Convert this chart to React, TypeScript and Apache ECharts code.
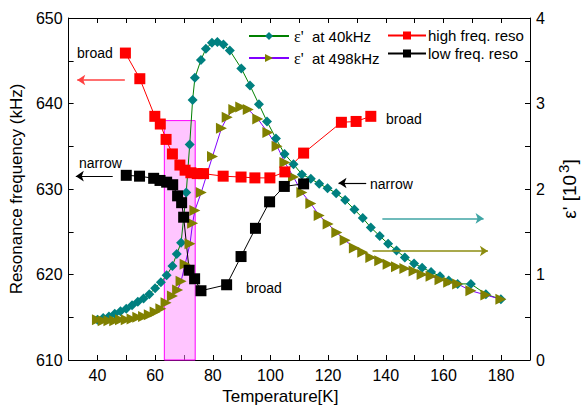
import React, { useEffect, useRef } from "react";
import * as echarts from "echarts";

// ε' at 40kHz (right axis, 10^3)
const tTeal = [40, 42, 44, 46, 48, 50, 52, 54, 56, 58, 60, 62, 64, 66, 67.5, 69, 70.8, 72, 73, 73.8, 75.9, 77.6, 79.7, 81.6, 83.7, 85.9, 89.9, 92.9, 96, 98.8, 101.9, 104.9, 108, 110.9, 114, 116.9, 119.8, 122.8, 125.9, 129.1, 132, 134.8, 137.9, 140.8, 143.7, 146.6, 149.8, 152.6, 155.7, 158.8, 161.8, 164.9, 169.5, 174.7, 179.9];
const eTeal = [0.47, 0.49, 0.51, 0.54, 0.57, 0.6, 0.64, 0.68, 0.72, 0.77, 0.84, 0.91, 0.99, 1.1, 1.24, 1.37, 1.96, 2.52, 3.04, 3.3, 3.51, 3.64, 3.71, 3.72, 3.69, 3.62, 3.41, 3.21, 2.99, 2.79, 2.59, 2.41, 2.29, 2.17, 2.12, 2.06, 2.01, 1.95, 1.87, 1.76, 1.66, 1.55, 1.45, 1.36, 1.28, 1.2, 1.13, 1.08, 1.03, 0.98, 0.93, 0.89, 0.89, 0.77, 0.71];

// ε' at 498kHz
const tOlive = [40, 42, 44, 46, 48, 50, 52, 54, 56, 58, 60, 62, 63.8, 66, 67.8, 69, 70.4, 72.1, 73, 73.8, 76, 79.9, 83, 85, 87.3, 89.7, 92.3, 95.6, 99.1, 102.3, 105, 108, 110.9, 114, 116.9, 120, 123, 125.9, 129.1, 132, 134.8, 137.9, 140.8, 143.7, 146.6, 149.8, 152.6, 155.7, 158.8, 161.8, 164.9, 169.5, 174.7, 179.9];
const eOlive = [0.47, 0.46, 0.46, 0.46, 0.47, 0.47, 0.48, 0.5, 0.51, 0.53, 0.56, 0.6, 0.67, 0.75, 0.82, 0.92, 1.12, 1.36, 1.6, 1.75, 1.96, 2.38, 2.71, 2.84, 2.93, 2.96, 2.93, 2.82, 2.66, 2.5, 2.31, 2.14, 1.96, 1.83, 1.69, 1.59, 1.49, 1.4, 1.31, 1.26, 1.2, 1.16, 1.12, 1.09, 1.07, 1.04, 1.0, 0.98, 0.94, 0.91, 0.89, 0.81, 0.76, 0.71];

// high freq. reso (left axis, kHz)
const tHigh = [49.7, 54.7, 59.9, 61.8, 63.8, 66, 68.6, 70.4, 72.4, 74.6, 76.8, 83.6, 89.8, 94.6, 99.8, 105, 111.5, 124.6, 129.7, 134.8];
const fHigh = [645.9, 642.9, 638.5, 637.6, 635.8, 634.1, 632.8, 632.2, 631.9, 631.8, 631.8, 631.5, 631.4, 631.3, 631.3, 632.0, 634.2, 637.8, 637.9, 638.5];

// low freq. reso
const tLow = [50, 54.6, 59.5, 61.7, 64, 66.1, 67.8, 69.2, 69.9, 71.8, 73.7, 75.9, 84.8, 89.8, 94.8, 99.7, 104.8, 111.5];
const fLow = [631.6, 631.5, 631.25, 631.0, 630.8, 630.5, 629.2, 628.4, 626.7, 620.5, 619.5, 618.1, 618.8, 622.1, 625.4, 628.5, 630.3, 630.6];

const xTicks = { min: 30, max: 190, step: 10, labelEvery: 20 };
const fTicks = { min: 610, max: 650, step: 5, labelEvery: 10 };
const eTicks = { min: 0, max: 4, step: 0.5, labelEvery: 1 };

const zip = (a: number[], b: number[]) => a.map((v, i) => [v, b[i]]);

const FONT = "Liberation Sans, Arial, sans-serif";

export default function App() {
  const ref = useRef<HTMLDivElement>(null);
  useEffect(() => {
    const chart = echarts.init(ref.current!, null, { renderer: "svg" });
    const axisCommon = {
      axisLine: { show: true, lineStyle: { color: "#000", width: 1 } },
      axisTick: { show: true, inside: true, length: 5, lineStyle: { color: "#000" } },
      splitLine: { show: false },
    };
    const labelFmt = (every: number) => (v: number) =>
      Math.abs(v / every - Math.round(v / every)) < 1e-6 ? String(v) : "";
    const option: any = {
      animation: false,
      backgroundColor: "#fff",
      grid: { left: 68, right: 55, top: 18, bottom: 49 },
      xAxis: [
        {
          type: "value",
          min: xTicks.min,
          max: xTicks.max,
          interval: xTicks.step,
          ...axisCommon,
          axisLabel: { formatter: labelFmt(xTicks.labelEvery), fontSize: 16, color: "#000", fontFamily: FONT, margin: 7 },
          name: "Temperature[K]",
          nameLocation: "middle",
          nameGap: 28,
          nameTextStyle: { fontSize: 17, color: "#000", fontFamily: FONT, padding: [0, 38, 0, 0] },
        },
        {
          type: "value",
          position: "top",
          min: xTicks.min,
          max: xTicks.max,
          interval: xTicks.step,
          ...axisCommon,
          axisLabel: { show: false },
        },
      ],
      yAxis: [
        {
          type: "value",
          min: fTicks.min,
          max: fTicks.max,
          interval: fTicks.step,
          ...axisCommon,
          axisLabel: { formatter: labelFmt(fTicks.labelEvery), fontSize: 16, color: "#000", fontFamily: FONT, margin: 6 },
          name: "Resonance frequency (kHz)",
          nameLocation: "middle",
          nameRotate: 90,
          nameGap: 42,
          nameTextStyle: { fontSize: 17, color: "#000", fontFamily: FONT },
        },
        {
          type: "value",
          position: "right",
          min: eTicks.min,
          max: eTicks.max,
          interval: eTicks.step,
          ...axisCommon,
          axisLabel: { formatter: labelFmt(eTicks.labelEvery), fontSize: 16, color: "#000", fontFamily: FONT, margin: 6 },
          name: "{e|ε'} [10{sup|3}]",
          nameLocation: "middle",
          nameRotate: 90,
          nameGap: 26,
          nameTextStyle: {
            fontSize: 19,
            color: "#000",
            fontFamily: FONT,
            rich: {
              e: { fontSize: 19, fontFamily: FONT, color: "#000" },
              sup: { fontSize: 15, fontFamily: FONT, color: "#000", verticalAlign: "top", padding: [0, 0, 12, 2] },
            },
          },
        },
      ],
      legend: [
        {
          data: ["ε' at 40kHz", "ε' at 498kHz"],
          orient: "vertical",
          left: 243,
          top: 23,
          itemWidth: 40,
          itemHeight: 10,
          itemGap: 6,
          selectedMode: false,
          formatter: (n: string) => `{e|ε'}  ${n.slice(3)}`,
          textStyle: {
            fontSize: 15,
            color: "#000",
            fontFamily: FONT,
            rich: { e: { fontSize: 16, fontFamily: "Liberation Serif, serif", color: "#000" } },
          },
        },
        {
          data: ["high freq. reso", "low freq. reso"],
          orient: "vertical",
          left: 382,
          top: 23,
          itemWidth: 38,
          itemHeight: 10,
          itemGap: 3,
          selectedMode: false,
          textStyle: { fontSize: 15, color: "#000", fontFamily: FONT, padding: [0, 0, 0, -3] },
        },
      ],
      series: [
        {
          name: "ε' at 40kHz",
          type: "line",
          xAxisIndex: 0,
          yAxisIndex: 1,
          data: zip(tTeal, eTeal),
          symbol: "diamond",
          symbolSize: 10,
          itemStyle: { color: "#008080" },
          lineStyle: { color: "#008000", width: 1 },
          markArea: {
            silent: true,
            itemStyle: { color: "rgba(255,140,255,0.5)", borderColor: "#ff00ff", borderWidth: 1 },
            data: [[{ coord: [63.2, 2.8] }, { coord: [73.9, 0] }]],
          },
          markLine: {
            silent: true,
            symbol: ["none", "arrow"],
            symbolSize: 8,
            label: { show: false },
            lineStyle: { color: "#3fa5a5", type: "solid", width: 1.5 },
            data: [[{ coord: [138.8, 1.656] }, { coord: [173.9, 1.656] }]],
          },
        },
        {
          name: "ε' at 498kHz",
          type: "line",
          xAxisIndex: 0,
          yAxisIndex: 1,
          data: zip(tOlive, eOlive),
          symbol: "triangle",
          symbolRotate: -90,
          symbolSize: 11,
          itemStyle: { color: "#808000" },
          lineStyle: { color: "#8000ff", width: 1 },
          markLine: {
            silent: true,
            symbol: ["none", "arrow"],
            symbolSize: 8,
            label: { show: false },
            lineStyle: { color: "#8c8c10", type: "solid", width: 1.5 },
            data: [[{ coord: [135.4, 1.275] }, { coord: [175.4, 1.275] }]],
          },
        },
        {
          name: "high freq. reso",
          type: "line",
          xAxisIndex: 0,
          yAxisIndex: 0,
          data: zip(tHigh, fHigh),
          symbol: "rect",
          symbolSize: 11,
          itemStyle: { color: "#ff0000" },
          lineStyle: { color: "#ff0000", width: 1 },
          markLine: {
            silent: true,
            symbol: ["none", "arrow"],
            symbolSize: 8,
            label: { show: false },
            lineStyle: { color: "#ff4040", type: "solid", width: 1.5 },
            data: [[{ coord: [49.5, 642.75] }, { coord: [33, 642.75] }]],
          },
        },
        {
          name: "low freq. reso",
          type: "line",
          xAxisIndex: 0,
          yAxisIndex: 0,
          data: zip(tLow, fLow),
          symbol: "rect",
          symbolSize: 11,
          itemStyle: { color: "#000" },
          lineStyle: { color: "#000", width: 1 },
          markLine: {
            silent: true,
            symbol: ["none", "arrow"],
            symbolSize: 8,
            label: { show: false },
            lineStyle: { color: "#000", type: "solid", width: 1.2 },
            data: [
              [{ coord: [45.3, 631.5] }, { coord: [32.5, 631.5] }],
              [{ coord: [133.2, 630.7] }, { coord: [123.6, 630.7] }],
            ],
          },
        },
      ],
      graphic: [
        { type: "text", x: 77, y: 53, style: { text: "broad", font: `14px ${FONT}`, fill: "#000", verticalAlign: "middle" } },
        { type: "text", x: 79, y: 163, style: { text: "narrow", font: `14px ${FONT}`, fill: "#000", verticalAlign: "middle" } },
        { type: "text", x: 386, y: 119, style: { text: "broad", font: `14px ${FONT}`, fill: "#000", verticalAlign: "middle" } },
        { type: "text", x: 370, y: 184, style: { text: "narrow", font: `14px ${FONT}`, fill: "#000", verticalAlign: "middle" } },
        { type: "text", x: 246, y: 288, style: { text: "broad", font: `14px ${FONT}`, fill: "#000", verticalAlign: "middle" } },
      ],
    };
    chart.setOption(option);
    return () => chart.dispose();
  }, []);
  return <div ref={ref} style={{ position: "absolute", left: 0, top: 0, width: 587, height: 410 }} />;
}
